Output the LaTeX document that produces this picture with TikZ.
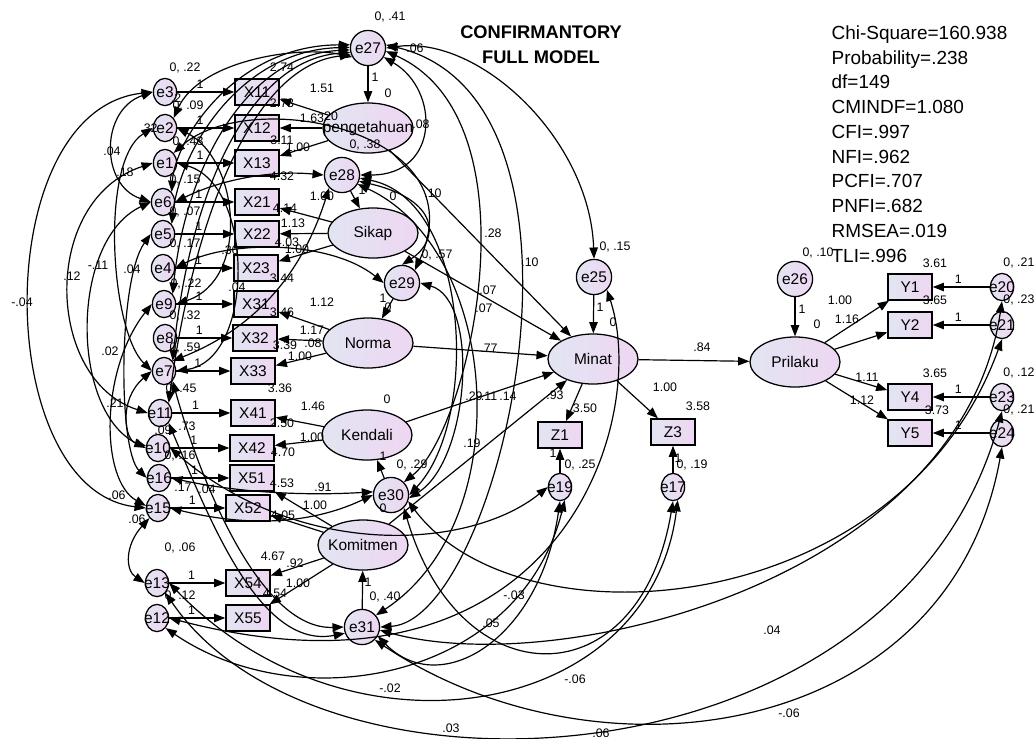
\documentclass[tikz,border=0pt]{standalone}
\usepackage{fontspec}
\setmainfont{Liberation Sans}
\usetikzlibrary{shapes.geometric,arrows.meta}
\definecolor{semL}{RGB}{226,229,242}
\definecolor{semR}{RGB}{238,214,242}
\newcommand\fsz[1]{\fontsize{#1}{#1}\selectfont}
\newcommand\nm[1]{\makebox[0pt]{#1}}
\tikzset{
  lat/.style={ellipse,draw,line width=0.9pt,minimum width=2.25cm,minimum height=1.25cm,inner sep=0pt,left color=semL,right color=semR,font=\fsz{11}},
  err/.style={circle,draw,line width=0.9pt,minimum size=0.88cm,inner sep=0pt,left color=semL,right color=semR,font=\fsz{11}},
  sml/.style={ellipse,draw,line width=0.9pt,minimum width=0.58cm,minimum height=0.68cm,inner sep=0pt,left color=semL,right color=semR,font=\fsz{11}},
  obs/.style={rectangle,draw,line width=1pt,minimum width=1.1cm,minimum height=0.65cm,inner sep=0pt,left color=semL,right color=semR,font=\fsz{11}},
  val/.style={inner sep=0pt,font=\fsz{8.8}}
}
\begin{document}
\begin{tikzpicture}[x=0.025cm,y=-0.025cm,>={Triangle[length=8pt,width=6pt]},line width=0.85pt]
\useasboundingbox (0,0) rectangle (1036,738);

% latent variables and their residuals
\node[err] (e27) at (368,48) {e27};
\node[lat] (peng) at (368,128) {\nm{pengetahuan}};
\node[err] (e28) at (342,175) {e28};
\node[lat] (sikap) at (373,233) {\nm{Sikap}};
\node[err] (e29) at (402,283) {e29};
\node[lat] (norma) at (368,343) {\nm{Norma}};
\node[lat] (kendali) at (367,435) {\nm{Kendali}};
\node[err] (e30) at (391,495) {e30};
\node[lat] (komit) at (363,545) {\nm{Komitmen}};
\node[err] (e31) at (362,627) {e31};
\node[lat] (minat) at (593,359) {\nm{Minat}};
\node[err] (e25) at (594,277) {e25};
\node[obs] (Z1) at (560,435) {Z1};
\node[obs] (Z3) at (673,432) {Z3};
\node[sml] (e19) at (560,487) {\nm{e19}};
\node[sml] (e17) at (673,487) {\nm{e17}};
\node[lat] (pril) at (795,362) {\nm{Prilaku}};
\node[err] (e26) at (795,279) {e26};

% left indicators
\foreach \e/\x/\ex/\bx/\y in {e3/X11/165/257/92, e2/X12/165/257/128, e1/X13/165/257/163,
  e6/X21/163/257/202, e5/X22/163/257/234, e4/X23/163/256/268, e9/X31/164/256/304,
  e8/X32/165/255/338, e7/X33/164/253/371, e11/X41/160/253/413, e10/X42/158/252/448,
  e16/X51/159/252/478, e15/X52/158/248/508, e13/X54/157/248/583, e12/X55/157/248/618}{
  \node[sml] (\e) at (\ex,\y) {\nm{\e}};
  \node[obs] (\x) at (\bx,\y) {\x};
  \draw[->] (\e) -- (\x) node[val,pos=0.4,above=2pt]{1};
}

% right indicators
\foreach \n/\e/\y in {1/e20/287, 2/e21/325, 4/e23/397, 5/e24/433}{
  \node[obs] (Y\n) at (910,\y) {Y\n};
  \node[sml] (\e) at (1002,\y) {\nm{\e}};
  \draw[->] (\e) -- (Y\n) node[val,pos=0.55,above=2pt]{1};
  \draw[->] (pril) -- (Y\n);
}

% loadings
\foreach \l/\x in {peng/X11, peng/X12, peng/X13, sikap/X21, sikap/X22, sikap/X23,
  norma/X31, norma/X32, norma/X33, kendali/X41, kendali/X42,
  komit/X51, komit/X52, komit/X54, komit/X55, minat/Z1, minat/Z3}
  \draw[->] (\l) -- (\x);
\foreach \e/\l in {e27/peng, e28/sikap, e29/norma, e30/kendali, e31/komit,
  e25/minat, e26/pril, e19/Z1, e17/Z3}
  \draw[->] (\e) -- (\l);
\foreach \l in {peng, sikap, norma, kendali, komit}
  \draw[->] (\l) -- (minat);
\draw[->] (minat) -- (pril);

% covariances, left side
\draw[<->] (e3.west) .. controls (-12,110) and (-8,490) .. (e15.west);
\draw[<->] (e1.west) .. controls (40,200) and (45,380) .. (e11.west);
\draw[<->] (e6.west) .. controls (70,240) and (70,410) .. (e10.west);
\draw[<->] (e3.west) .. controls (100,110) and (100,185) .. (e6.west);
\draw[<->] (e2.west) .. controls (100,160) and (110,330) .. (e7.west);
\draw[<->] (e5.west) .. controls (118,280) and (118,450) .. (e16.west);
\draw[<->] (e9.west) .. controls (100,370) and (100,480) .. (e15.170);
\draw[<->] (e7.west) .. controls (118,400) and (125,440) .. (e10.170);
\draw[<->] (e15.south west) .. controls (125,545) and (125,570) .. (e13.west);
\draw[<->] (e1.east) .. controls (255,185) and (255,360) .. (e7.east);
\draw[<->] (e2.east) .. controls (240,160) and (250,280) .. (e9.east);

% covariances with e27 and e28
\draw[<->] (e6.north east) .. controls (175,140) and (235,45) .. (e27.170);
\draw[<->] (e5.north east) .. controls (180,150) and (240,50) .. (e27.178);
\draw[<->] (e9.north east) .. controls (185,170) and (245,55) .. (e27.186);
\draw[<->] (e7.north east) .. controls (190,190) and (250,60) .. (e27.194);
\draw[<->] (e11.north east) .. controls (195,210) and (255,65) .. (e27.202);
\draw[<->] (e2.north east) .. controls (200,60) and (300,45) .. (e27.210);
\draw[<->] (e6.east) .. controls (220,180) and (270,170) .. (e28.west);
\draw[<->] (e4.east) .. controls (230,240) and (330,240) .. (e29.west);
\draw[<->] (e1.north east) .. controls (250,85) and (480,130) .. (e29.north east);
\draw[<->] (e28.south west) .. controls (300,280) and (250,330) .. (e7.north east);

\draw[<->] (e27.east) .. controls (480,35) and (590,140) .. (e25.north);
\draw[<->] (e27.-30) .. controls (440,90) and (440,175) .. (e28.east);
\draw[<->] (e27.10) .. controls (620,100) and (500,620) .. (e31.east);
\draw[<->] (e27.-10) .. controls (540,120) and (470,430) .. (e30.north east);
\draw[<->] (e28.-10) .. controls (470,200) and (480,420) .. (e30.east);
\draw[<->] (e28.-20) .. controls (440,200) and (440,240) .. (e29.north);
\draw[<->] (e28.-30) .. controls (500,250) and (520,520) .. (e31.40);
\draw[<->] (e29.east) .. controls (480,300) and (470,460) .. (e30.-10);

% covariances, lower part
\draw[<->] (e15.east) .. controls (260,530) and (320,520) .. (e30.west);
\draw[<->] (e16.east) .. controls (250,495) and (320,495) .. (e30.170);
\draw[<->] (e7.south east) .. controls (200,480) and (260,630) .. (e31.west);
\draw[<->] (e11.south east) .. controls (210,520) and (260,650) .. (e31.200);
\draw[<->] (e10.east) .. controls (300,560) and (470,550) .. (e19.west);
\draw[<->] (e31.-30) .. controls (440,700) and (540,640) .. (e19.south);
\draw[<->] (e12.south east) .. controls (300,720) and (520,680) .. (e19.-70);
\draw[<->] (e30.south east) .. controls (460,700) and (640,700) .. (e17.south);
\draw[<->] (e13.east) .. controls (350,770) and (650,720) .. (e17.-70);
\draw[<->] (e25.south east) .. controls (650,420) and (560,720) .. (e12.east);
\draw[<->] (e30.-20) .. controls (520,650) and (900,620) .. (e21.south);
\draw[<->] (e20.south) .. controls (960,580) and (560,680) .. (e31.-10);
\draw[<->] (e23.south) .. controls (900,790) and (320,820) .. (e13.south east);
\draw[<->] (e24.south) .. controls (950,740) and (600,790) .. (e31.south east);

% estimates
\foreach \t/\x/\y [count=\i] in {{0, .41}/390/17, .06/415/48, 0/388/93, .08/421/124, {0, .38}/365/145,
  {0, .22}/185/68, {0, .09}/188/106, .2/176/98, .32/149/128, {0, .43}/188/142,
  .04/112/151, .18/125/172, {0, .15}/185/180, {0, .07}/185/212, {0, .17}/185/244,
  {0, .22}/186/284, {0, .32}/185/316, {0, .59}/185/348, {0, .45}/181/389, .09/163/430,
  .73/187/426, {0, .16}/180/456, .17/183/487, .04/207/489, {0, .06}/180/548, {0, .12}/180/596,
  -.04/22/302, .12/72/276, -.11/98/265, .04/132/269, .02/110/351, .21/115/403,
  .06/117/495, .06/137/519, .36/230/250, .04/237/287,
  2.74/282/67, 2.73/282/103, 3.11/282/140, 4.32/282/176, 4.14/285/208, 4.03/287/242,
  3.44/282/278, 3.46/282/312, 3.39/285/345, 3.36/280/388, 2.50/282/423, 4.70/283/452,
  4.53/282/483, 4.05/283/515, 4.67/273/556, 4.54/275/593,
  1.51/322/88, 1.63/312/118, 20/331/116, 1.00/298/147, 1.00/322/196, 1.13/293/223,
  1.00/297/249, 1.12/322/302, 1.17/312/330, .08/313/343, 1.00/300/356, 1.46/313/406,
  1.00/312/437, .91/323/487, 1.00/315/505, .92/295/563, 1.00/298/583,
  1/375/77, 1/362/190, 0/393/196, 1/383/298, 0/388/307, 0/387/399, 1/383/456,
  {0, .29}/412/465, 0/383/508, 1/368/582, {0, .40}/385/597, {0, .57}/437/255,
  .10/433/193, .28/493/233, .10/530/262, .07/488/290, .07/484/308, .77/489/348,
  .29/474/396, .11/489/396, .14/508/396, .93/555/395, .19/472/443,
  {0, .15}/615/247, 1/600/307, 0/613/322, .84/702/347, 3.50/585/408, 1.00/665/387,
  3.58/698/406, 1/553/453, {0, .25}/580/465, 1/678/458, {0, .19}/692/465,
  {0, .10}/818/253, 1/802/309, 1.00/840/300, 0/817/324, 1.16/847/319, 1.11/867/377,
  1.12/862/400, 3.61/935/263, 3.65/935/300, 3.65/935/373, 3.73/937/410,
  -.03/514/595, .05/491/623, -.06/575/679, .04/772/630, -.06/789/713,
  .03/451/728, .06/601/733, -.02/390/688}
  \node[val] (v\i) at (\x,\y) {\t};
\foreach \t/\y [count=\i] in {{0, .21}/263, {0, .23}/300, {0, .12}/373, {0, .21}/410}
  \node[val,anchor=east] (w\i) at (1035,\y) {\t};

% title and fit indices
\node[font=\bfseries\fontsize{13}{17.7}\selectfont,align=center,inner sep=0pt] (title) at (541,45) {CONFIRMANTORY\\FULL MODEL};
\node[anchor=north west,align=left,inner sep=0pt,font=\fontsize{13.5}{17.6}\selectfont] (fit) at (831,25)
  {Chi-Square=160.938\\Probability=.238\\df=149\\CMINDF=1.080\\CFI=.997\\NFI=.962\\PCFI=.707\\PNFI=.682\\RMSEA=.019\\TLI=.996};
\end{tikzpicture}
\end{document}
